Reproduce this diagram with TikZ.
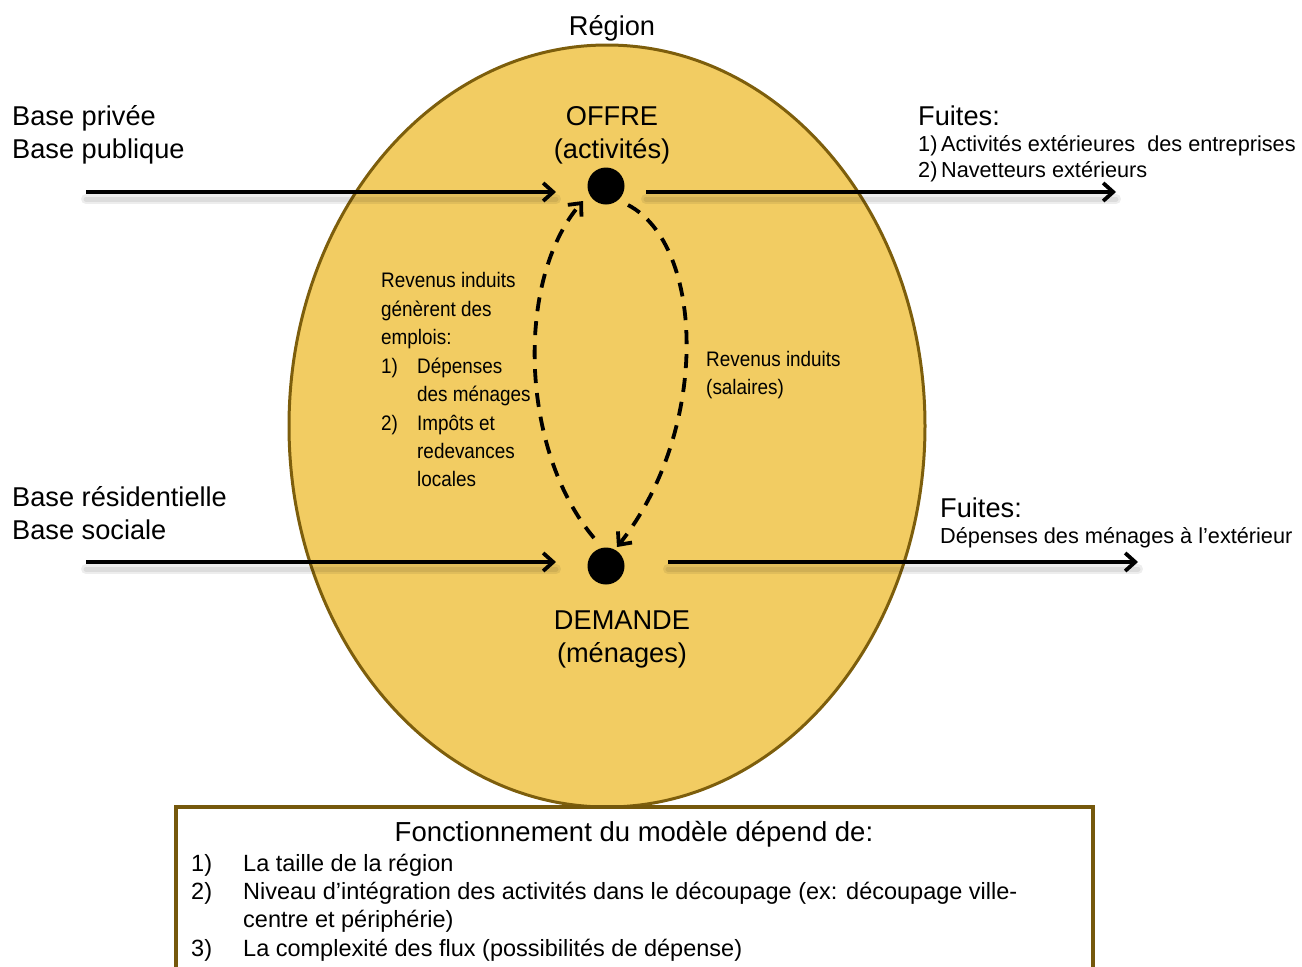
\documentclass[tikz,border=0pt]{standalone}
\usepackage{fontspec}
\setmainfont{Liberation Sans}
\newfontfamily\narrowfont[FakeStretch=0.9]{Liberation Sans}
\usetikzlibrary{arrows.meta}
\definecolor{regfill}{RGB}{242,204,98}
\definecolor{regline}{RGB}{125,94,12}
\definecolor{boxline}{RGB}{117,88,12}
\newcommand{\fs}[1]{\fontsize{#1}{#1}\selectfont}
\tikzset{
  flow/.style={line width=3.8pt,-{Straight Barb[length=10pt,width=18pt,line width=3.8pt]}},
  flowshadow/.style={line width=#1,black,opacity=0.07,line cap=round},
  dflow/.style={line width=3.8pt,dash pattern=on 14pt off 10pt,-{Straight Barb[length=10pt,width=18pt,line width=3.8pt]}},
  dot/.style={circle,fill=black,minimum size=37pt,inner sep=0pt},
  big/.style={font=\fs{27.2}},
  mid/.style={font=\fs{21.7}},
  lbl/.style={inner sep=0pt},
}
\begin{document}
\begin{tikzpicture}[x=1pt,y=-1pt]
\useasboundingbox (0,0) rectangle (1302,967);
% region ellipse
\draw[regline,line width=3pt,fill=regfill] (607,426) ellipse [x radius=318,y radius=381];
% box
\draw[boxline,line width=3.5pt,fill=white] (176,807) -- (176,990) -- (1093,990) -- (1093,807) -- cycle;
% dots
\node[dot] (offre) at (606,186) {};
\node[dot] (demande) at (606,566) {};
% coordinates for free ends
\coordinate (inA) at (86,192);
\coordinate (inAe) at (556,192);
\coordinate (outA) at (646,192);
\coordinate (outAe) at (1116,192);
\coordinate (inB) at (86,562);
\coordinate (inBe) at (556,562);
\coordinate (outB) at (668,562);
\coordinate (outBe) at (1138,562);
\coordinate (lcs) at (594,538);
\coordinate (lce) at (583,201);
\coordinate (rcs) at (628,205);
\coordinate (rce) at (617,547);
% shadows
\foreach \a/\b in {inA/inAe,outA/outAe,inB/inBe,outB/outBe}{
  \draw[flowshadow=10pt] ([yshift=-7pt]\a) -- ([yshift=-7pt]\b);
  \draw[flowshadow=5pt] ([yshift=-7pt]\a) -- ([yshift=-7pt]\b);
}
% flows
\draw[flow] (inA) -- (inAe);
\draw[flow] (outA) -- (outAe);
\draw[flow] (inB) -- (inBe);
\draw[flow] (outB) -- (outBe);
\draw[dflow] (lcs) .. controls (520,450) and (515,280) .. (lce);
\draw[dflow] (rcs) .. controls (705,245) and (710,430) .. (rce);
% texts
\node[lbl,big,anchor=base] (region) at (612,35) {Région};
\node[lbl,big,anchor=base west] (bp1) at (12,125) {Base privée};
\node[lbl,big,anchor=base west] (bp2) at (12,158) {Base publique};
\node[lbl,big,anchor=base] (of1) at (612,125) {OFFRE};
\node[lbl,big,anchor=base] (of2) at (612,158) {(activités)};
\node[lbl,big,anchor=base west] (f1) at (918,125) {Fuites:};
\node[lbl,mid,anchor=base west] (f1a) at (918,151) {1)\,Activités extérieures\ \ des entreprises};
\node[lbl,mid,anchor=base west] (f1b) at (918,177) {2)\,Navetteurs extérieurs};
\node[lbl,big,anchor=base west] (br1) at (12,506) {Base résidentielle};
\node[lbl,big,anchor=base west] (br2) at (12,539) {Base sociale};
\node[lbl,big,anchor=base west] (f2) at (940,517) {Fuites:};
\node[lbl,mid,anchor=base west] (f2a) at (940,543) {Dépenses des ménages à l’extérieur};
\node[lbl,big,anchor=base] (dm1) at (622,629) {DEMANDE};
\node[lbl,big,anchor=base] (dm2) at (622,662) {(ménages)};
% left narrow block
\begin{scope}[every node/.style={lbl,font=\narrowfont\fs{21},anchor=base west}]
\node (l1) at (381,287) {Revenus induits};
\node (l2) at (381,316) {génèrent des};
\node (l3) at (381,344) {emplois:};
\node (l4n) at (381,373) {1)};
\node (l4) at (417,373) {Dépenses};
\node (l5) at (417,401) {des ménages};
\node (l6n) at (381,430) {2)};
\node (l6) at (417,430) {Impôts et};
\node (l7) at (417,458) {redevances};
\node (l8) at (417,486) {locales};
\node (r1) at (706,366) {Revenus induits};
\node (r2) at (706,394) {(salaires)};
\end{scope}
% box texts
\node[lbl,font=\fs{27.5},anchor=base] (bt) at (634,841) {Fonctionnement du modèle dépend de:};
\begin{scope}[every node/.style={lbl,font=\fs{23.5},anchor=base west}]
\node (n1) at (191,871) {1)};
\node (t1) at (243,871) {La taille de la région};
\node (n2) at (191,899) {2)};
\node (t2) at (243,899) {Niveau d’intégration des activités dans le découpage (ex: découpage ville-};
\node (t2b) at (243,927) {centre et périphérie)};
\node (n3) at (191,956) {3)};
\node (t3) at (243,956) {La complexité des flux (possibilités de dépense)};
\end{scope}
\end{tikzpicture}
\end{document}
